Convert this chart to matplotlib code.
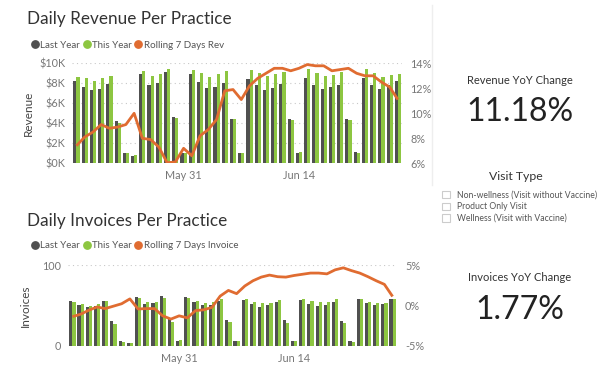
import numpy as np
import pandas as pd
import matplotlib
matplotlib.use('Agg')
import matplotlib.pyplot as plt
from matplotlib.lines import Line2D
from matplotlib.patches import Rectangle

plt.rcParams['font.family'] = ['Lato', 'DejaVu Sans']

# data (revenue in $K, rolling in %)
days = pd.date_range('2020-05-18', periods=40)
tick_days = ['2020-05-31', '2020-06-14']
tick_labels = ['May 31', 'Jun 14']

rev_last = [8.2, 7.6, 7.3, 7.4, 7.9, 4.2, 1.0, 0.7, 8.9, 7.8, 8.0, 9.1, 4.6, 1.0,
            8.9, 8.1, 7.5, 7.6, 8.0, 4.4, 1.0, 8.4, 7.8, 7.3, 7.5, 7.9, 4.4, 1.0,
            8.5, 7.8, 7.4, 7.6, 7.8, 4.4, 1.1, 8.5, 7.8, 7.4, 7.8, 8.2]
rev_this = [8.6, 8.5, 8.2, 8.5, 8.7, 4.0, 1.0, 0.8, 9.2, 8.7, 8.9, 9.4, 4.5, 1.0,
            9.3, 9.0, 8.6, 8.9, 9.2, 4.4, 1.0, 9.3, 9.0, 8.7, 8.9, 9.1, 4.3, 1.1,
            9.4, 9.0, 8.7, 8.8, 9.1, 4.3, 1.0, 9.4, 9.0, 8.6, 8.8, 8.9]
rev_rolling = [7.4, 8.1, 8.5, 9.1, 8.8, 8.9, 9.1, 10.0, 8.0, 7.9, 7.3, 6.05, 6.1, 7.2,
               6.6, 8.2, 8.7, 9.5, 11.8, 11.9, 11.1, 12.2, 12.8, 13.2, 13.6, 13.6, 13.4, 13.6,
               13.9, 13.8, 13.8, 13.4, 13.5, 13.6, 13.2, 13.0, 13.0, 12.5, 12.1, 11.1]

inv_last = [55.4, 50.4, 48.3, 49.2, 55.8, 30.6, 5.8, 3.7, 60.3, 52.1, 52.9, 61.2, 33.5, 6.2,
            60.7, 54.5, 50.4, 50.4, 55.4, 31.8, 5.8, 56.6, 51.7, 48.3, 50.0, 54.5, 31.8, 5.8,
            56.6, 51.7, 49.2, 50.8, 54.5, 31.0, 5.8, 57.4, 53.3, 50.4, 51.7, 57.4]
inv_this = [53.7, 51.7, 49.6, 51.2, 55.8, 26.9, 5.0, 3.7, 58.7, 53.7, 54.5, 59.5, 29.8, 7.0,
            59.1, 55.4, 52.7, 53.9, 57.4, 28.9, 5.4, 57.4, 54.1, 52.5, 53.3, 57.0, 28.5, 5.8,
            58.3, 55.0, 53.7, 53.7, 58.3, 28.5, 4.5, 57.9, 54.5, 52.5, 53.3, 57.4]
inv_rolling = [-1.4, -1.1, -0.6, -0.2, -0.4, -0.1, 0.2, 0.8, -0.45, -0.4, -0.4, -1.3, -1.7, -1.3,
               -1.55, -0.65, -0.55, -0.25, 1.15, 1.85, 1.45, 2.4, 3.05, 3.5, 3.75, 3.55, 3.5, 3.7,
               3.85, 4.0, 4.0, 3.9, 4.4, 4.65, 4.3, 4.0, 3.55, 3.05, 2.6, 1.1]

rev_yoy = '11.18%'
inv_yoy = '1.77%'
visit_types = ['Non-wellness (Visit without Vaccine)', 'Product Only Visit',
               'Wellness (Visit with Vaccine)']

DARK = '#505050'
GREEN = '#8DC641'
ORANGE = '#E06C31'
TICK = '#777777'
W, H = 600, 365

fig = plt.figure(figsize=(6, 3.65), dpi=100)


def fx(px):
    return px / W


def fy(py):
    return 1 - py / H


def bar_panel(rect, last, this, rolling, ylim, yticks, yfmt, rlim, rticks, rfmt, ylabel, labelpad):
    ax = fig.add_axes(rect)
    x = np.arange(len(days))
    bw = 0.38
    ax.bar(x - bw / 2, last, bw, color=DARK, zorder=2)
    ax.bar(x + bw / 2, this, bw, color=GREEN, zorder=2)
    ax.set_xlim(-0.5, len(days) - 0.5)
    ax.set_ylim(*ylim)
    ax.set_yticks(yticks)
    ax.set_yticklabels([yfmt(v) for v in yticks])
    pos = [list(days).index(pd.Timestamp(d)) for d in tick_days]
    ax.set_xticks(pos)
    ax.set_xticklabels(tick_labels)
    ax.tick_params(length=0, labelsize=7.8, colors=TICK, pad=5)
    ax.grid(axis='y', linestyle=(0, (1, 3)), color='#c8c8c8', linewidth=0.8, zorder=0)
    for s in ax.spines.values():
        s.set_visible(False)
    ax.set_ylabel(ylabel, fontsize=8.5, color='#444444', labelpad=labelpad)

    ax2 = ax.twinx()
    ax2.plot(x, rolling, color=ORANGE, linewidth=2, zorder=3, solid_capstyle='butt')
    ax2.set_ylim(*rlim)
    ax2.set_yticks(rticks)
    ax2.set_yticklabels([rfmt(v) for v in rticks])
    ax2.tick_params(length=0, labelsize=7.8, colors=TICK, pad=6)
    for s in ax2.spines.values():
        s.set_visible(False)
    return ax, ax2


# revenue chart
bar_panel([fx(72.3), fy(163.3), fx(329.7), 100 / H], rev_last, rev_this, rev_rolling,
          (0, 10), [0, 2, 4, 6, 8, 10], lambda v: f'${v:g}K',
          (6, 14), [6, 8, 10, 12, 14], lambda v: f'{v:g}%', 'Revenue', 4)

# invoices chart
bar_panel([fx(68.3), fy(345.7), fx(328.4), 80.7 / H], inv_last, inv_this, inv_rolling,
          (0, 100), [0, 100], lambda v: f'{v:g}',
          (-5, 5), [-5, 0, 5], lambda v: f'{v:g}%', 'Invoices', 8)

# titles and legends
fig.text(fx(27), fy(19), 'Daily Revenue Per Practice', fontsize=12.3, color='#333333', va='center')
fig.text(fx(27), fy(221), 'Daily Invoices Per Practice', fontsize=12.3, color='#333333', va='center')


def legend(y, line_name):
    handles = [Line2D([], [], marker='o', linestyle='', color=c, markersize=5.3)
               for c in (DARK, GREEN, ORANGE)]
    fig.legend(handles, ['Last Year', 'This Year', line_name], loc='center left',
               bbox_to_anchor=(fx(21), fy(y)), ncol=3, frameon=False, fontsize=7,
               handletextpad=0.05, columnspacing=0.2, handlelength=1.0, labelcolor='#555555')


legend(45, 'Rolling 7 Days Rev')
legend(246, 'Rolling 7 Days Invoice')

# right panel
fig.add_artist(Line2D([fx(431.5), fx(431.5)], [fy(5), fy(185)], color='#eeeeee', linewidth=1))
fig.text(fx(520), fy(80), 'Revenue YoY Change', fontsize=8, color='#333333', ha='center', va='center')
fig.text(fx(520), fy(112), rev_yoy, fontsize=23, color='#222222', ha='center', va='center')
fig.text(fx(515.5), fy(176), 'Visit Type', fontsize=8.8, color='#333333', ha='center', va='center')
for i, name in enumerate(visit_types):
    yc = 194.7 + i * 11.7
    fig.add_artist(Rectangle((fx(442), fy(yc + 3.7)), 7.5 / W, 7.5 / H, fill=False,
                             edgecolor='#cccccc', linewidth=0.8))
    fig.text(fx(456.7), fy(yc), name, fontsize=6.2, color='#555555', va='center')
fig.text(fx(520), fy(277.5), 'Invoices YoY Change', fontsize=8, color='#333333', ha='center', va='center')
fig.text(fx(520), fy(310), inv_yoy, fontsize=23, color='#222222', ha='center', va='center')

fig.savefig('out.png', dpi=100)
